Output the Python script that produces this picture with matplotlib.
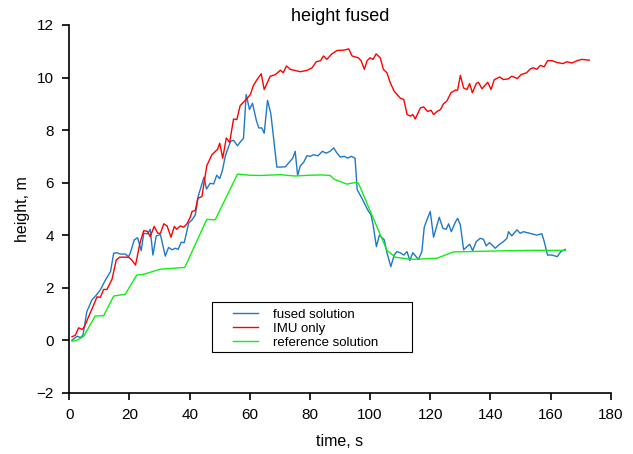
import matplotlib
matplotlib.use('Agg')
import matplotlib.pyplot as plt
from matplotlib.patches import Rectangle

plt.rcParams['font.family'] = ['Liberation Sans', 'DejaVu Sans']

# reference solution
ref_t = [0.9, 2.6, 4.75, 8.6, 11.4, 14.75, 18.6, 22.4, 24.75, 30.2, 38.4, 45.7, 48.5,
         55.9, 60.0, 63.4, 70.2, 75.0, 80.0, 84.0, 86.7, 88.0, 92.3, 95.0, 96.1,
         105.6, 108.4, 113.4, 115.5, 122.2, 127.7, 143.3, 154.3, 164.9]
ref_h = [-0.04, 0.0, 0.14, 0.92, 0.93, 1.68, 1.75, 2.48, 2.51, 2.7, 2.77, 4.6, 4.58,
         6.32, 6.28, 6.27, 6.3, 6.25, 6.28, 6.29, 6.27, 6.13, 5.94, 6.0, 5.98,
         3.42, 3.16, 3.08, 3.08, 3.12, 3.36, 3.4, 3.42, 3.42]

# IMU only
imu_t = [0.9, 2.0, 3.1, 4.3, 5.0, 6.4, 8.1, 9.2, 10.3, 11.4, 12.5, 14.2, 15.6, 16.7,
         19.7, 20.8, 22.0, 23.6, 24.75, 26.0, 26.9, 28.2, 29.4, 30.3, 31.4, 32.5,
         33.8, 34.9, 35.7, 36.9, 38.0, 39.1, 40.2, 40.8, 41.9, 42.7, 44.1, 45.7,
         47.4, 49.3, 50.0, 51.0, 52.2, 53.3, 54.6, 55.7, 56.8, 58.5, 60.2, 61.1,
         62.4, 63.8, 64.8, 66.8, 68.5, 70.2, 71.1, 72.2, 73.5, 76.8, 79.0, 80.7,
         82.1, 83.5, 84.5, 85.6, 87.3, 89.0, 91.2, 92.9, 94.0, 96.1, 97.0, 98.1,
         99.0, 100.0, 101.0, 102.0, 103.4, 104.4, 105.6, 106.7, 108.0, 110.0,
         111.2, 112.3, 113.4, 114.2, 115.0, 116.7, 117.8, 119.1, 120.3, 121.1,
         122.3, 123.4, 124.4, 125.5, 126.9, 128.3, 129.1, 130.0, 131.1, 132.2,
         133.1, 134.0, 135.3, 136.0, 137.2, 139.1, 140.2, 141.3, 143.1, 144.3,
         146.0, 147.1, 149.0, 150.2, 152.0, 153.3, 154.3, 155.4, 156.6, 157.9,
         159.0, 160.5, 162.2, 164.1, 165.4, 167.1, 168.8, 170.4, 172.9]
imu_h = [0.13, 0.19, 0.47, 0.41, 0.51, 0.89, 1.34, 1.65, 1.63, 1.93, 1.93, 2.32, 3.05, 3.16,
         3.16, 3.05, 2.86, 3.75, 4.17, 4.14, 3.94, 4.33, 4.07, 4.07, 4.43, 4.35,
         3.92, 4.33, 4.22, 4.35, 4.3, 4.43, 4.68, 4.9, 4.94, 5.4, 5.47, 6.64,
         7.06, 7.27, 7.5, 6.93, 7.7, 7.53, 8.42, 8.4, 8.93, 9.13, 9.35, 9.67,
         9.92, 10.14, 9.54, 10.05, 10.11, 10.28, 10.18, 10.44, 10.31, 10.22, 10.27, 10.37,
         10.6, 10.64, 10.82, 10.69, 10.9, 11.03, 11.04, 11.09, 10.82, 10.75, 10.64, 10.31,
         10.64, 10.75, 10.69, 10.9, 10.75, 10.31, 10.18, 9.8, 9.48, 9.22,
         9.16, 8.59, 8.53, 8.59, 8.42, 8.84, 8.88, 8.71, 8.75, 8.59,
         8.71, 8.78, 9.0, 9.1, 9.42, 9.52, 9.52, 10.08, 9.6, 9.54,
         9.77, 9.42, 9.77, 9.82, 9.57, 9.82, 9.54, 9.92, 10.02, 9.92,
         9.95, 10.05, 9.96, 10.11, 10.18, 10.33, 10.37, 10.31, 10.46, 10.41,
         10.64, 10.64, 10.57, 10.53, 10.6, 10.55, 10.64, 10.69, 10.66]

# fused solution
fused_t = [0.9, 2.6, 3.7, 4.55, 5.8, 7.5, 9.0, 10.3, 12.0, 13.7, 14.75, 15.8, 16.9,
           18.6, 19.7, 20.3, 21.6, 22.7, 23.9, 24.75, 26.0, 26.9, 27.8, 28.9, 30.3,
           31.9, 33.0, 34.2, 35.2, 36.2, 37.2, 38.2, 39.7, 40.8, 41.9, 42.9, 44.8,
           45.6, 46.8, 48.0, 49.0, 50.0, 50.9, 51.9, 53.6, 54.6, 55.9, 57.0, 57.9,
           58.8, 59.9, 60.9, 62.2, 63.0, 64.0, 64.8, 65.9, 67.0, 69.0, 70.2, 71.8,
           73.4, 74.3, 75.1, 75.9, 76.8, 77.9, 79.0, 80.1, 81.2, 82.7, 84.1, 85.4,
           86.7, 87.9, 89.0, 90.1, 91.4, 92.6, 93.7, 95.0, 95.7, 97.3, 99.2, 100.3,
           101.0, 102.1, 103.1, 104.7, 105.6, 106.9, 108.0, 108.9, 110.0, 111.2,
           112.3, 113.2, 114.2, 115.3, 116.1, 117.2, 118.0, 118.9, 120.0, 121.1,
           123.0, 124.2, 125.3, 126.1, 127.0, 128.3, 129.1, 130.0, 131.1, 132.2,
           133.1, 134.1, 135.3, 136.6, 137.7, 138.6, 139.7, 140.5, 141.6, 142.8,
           144.3, 145.5, 146.0, 147.1, 148.8, 149.9, 151.0, 152.0, 153.8, 155.4,
           157.1, 157.9, 159.0, 160.5, 162.2, 163.4, 164.9]
fused_h = [0.0, 0.15, 0.1, 0.19, 1.08, 1.53, 1.72, 1.91, 2.29, 2.61, 3.31, 3.33, 3.28,
           3.28, 3.18, 3.33, 3.82, 3.9, 3.41, 4.07, 4.05, 4.22, 3.24, 3.97, 4.02,
           3.2, 3.53, 3.44, 3.5, 3.46, 3.73, 3.71, 4.46, 4.58, 4.77, 5.5, 6.21,
           5.75, 5.97, 5.95, 6.28, 6.15, 6.46, 7.03, 7.57, 7.61, 7.4, 7.57, 7.68,
           9.35, 8.78, 9.02, 8.36, 8.08, 8.08, 7.88, 9.13, 8.62, 6.59, 6.59, 6.6,
           6.81, 6.93, 7.19, 6.27, 6.64, 6.77, 7.02, 7.0, 7.06, 7.02, 7.19, 7.12,
           7.19, 7.32, 7.12, 6.97, 7.0, 6.93, 7.0, 6.93, 5.73, 5.4, 4.96, 4.77,
           4.39, 3.56, 4.0, 3.82, 3.33, 2.8, 3.24, 3.37, 3.33, 3.24,
           3.37, 3.03, 3.33, 3.18, 3.08, 3.37, 4.3, 4.58, 4.9, 3.92,
           4.68, 4.26, 4.22, 4.43, 4.13, 4.48, 4.64, 4.39, 3.44, 3.56,
           3.65, 3.41, 3.75, 3.88, 3.84, 3.59, 3.71, 3.63, 3.5, 3.63,
           3.75, 3.88, 4.13, 3.97, 4.2, 4.07, 4.13, 4.1, 4.05, 4.0,
           4.05, 3.75, 3.24, 3.24, 3.18, 3.37, 3.46]

fig = plt.figure(figsize=(6.33, 4.54), dpi=100)
ax = fig.add_axes([0.1095, 0.135, 0.8553, 0.81])

ax.plot(fused_t, fused_h, color='#1f78c8', lw=1.0, label='fused solution')
ax.plot(imu_t, imu_h, color='#ff0000', lw=1.0, label='IMU only')
ax.plot(ref_t, ref_h, color='#11ee11', lw=1.0, label='reference solution')

ax.set_xlim(0, 180)
ax.set_ylim(-2, 12)
ax.set_xticks(range(0, 181, 20))
ax.set_yticks(range(-2, 13, 2))
ax.set_yticklabels(['\u22122'] + [str(v) for v in range(0, 13, 2)])
for s in ['top', 'right']:
    ax.spines[s].set_visible(False)
ax.spines['left'].set_linewidth(1.2)
ax.spines['bottom'].set_linewidth(1.2)
ax.tick_params(direction='out', length=5, width=1.2, labelsize=11, pad=6)

ax.set_title('height fused', fontsize=13, pad=2)
ax.set_xlabel('time, s', fontsize=11.5, labelpad=9)
ax.set_ylabel('height, m', fontsize=11.5, labelpad=5)

# legend box drawn separately, wider than the entries like the original
ax.add_patch(Rectangle((0.2636, 0.1107), 0.3694, 0.136, transform=ax.transAxes,
                       facecolor='white', edgecolor='black', lw=0.8, zorder=4))
leg = ax.legend(loc='center left', bbox_to_anchor=(0.3024, 0.174), borderaxespad=0,
                borderpad=0, frameon=False, fontsize=9.5, handlelength=1.9,
                handletextpad=1.1, labelspacing=0.15)
leg.set_zorder(5)

fig.savefig('out.png', dpi=100)
